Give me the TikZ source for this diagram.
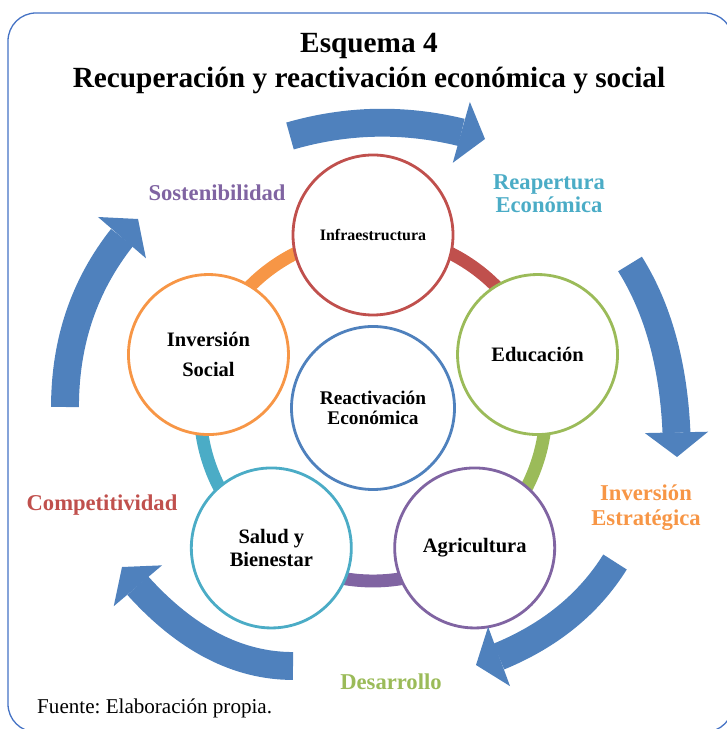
\documentclass[tikz,border=0pt]{standalone}
\usepackage{fontspec}
\setmainfont{Liberation Serif}
\frenchspacing
\usetikzlibrary{arrows.meta,calc,backgrounds,bending}
\definecolor{cred}{HTML}{C0504D}
\definecolor{cgreen}{HTML}{9BBB59}
\definecolor{cpurple}{HTML}{8064A2}
\definecolor{cteal}{HTML}{4BACC6}
\definecolor{corange}{HTML}{F79646}
\definecolor{cblue}{HTML}{4F81BD}
\definecolor{cframe}{HTML}{4472C4}
\tikzset{
  bubble/.style={circle, draw, fill=white, line width=2.4pt, minimum size=4.8cm, inner sep=0pt, align=center, font=\bfseries\fontsize{17.5}{19.6}\selectfont},
  ring/.style={line width=11pt},
  bigarrow/.style={cblue, line width=23.8pt, -{Triangle[length=21pt, width=54pt, line width=0pt, flex]}},
  lbl/.style={inner sep=0pt, align=center, font=\bfseries\fontsize{19.3}{19.6}\selectfont},
  titletext/.style={inner sep=0pt, anchor=base, font=\bfseries\fontsize{25}{30}\selectfont},
}
\begin{document}
\begin{tikzpicture}[x=0.03cm, y=0.03cm]
\useasboundingbox (0,0) rectangle (726,729);
% frame
\draw[cframe, line width=1.1pt, rounded corners=0.84cm] (8,-3) rectangle (733,716);
% title
\node[titletext] (t1) at (369,676.5) {Esquema 4};
\node[titletext] (t2) at (369,641) {Recuperación y reactivación económica y social};
% center of the ring
\coordinate (O) at (373,321);
% circles
\node[bubble, draw=cblue, minimum size=4.89cm, font=\bfseries\fontsize{16.5}{17}\selectfont] (core) at (O) {Reactivación\\Económica};
\node[bubble, draw=cred, font=\bfseries\fontsize{13.6}{16}\selectfont] (infra) at ($(O)+(90:173)$) {Infraestructura};
\node[bubble, draw=cgreen] (edu) at ($(O)+(18:173)$) {Educación};
\node[bubble, draw=cpurple] (agri) at ($(O)+(-54:173)$) {Agricultura};
\node[bubble, draw=cteal, font=\bfseries\fontsize{17.5}{19.6}\selectfont] (salud) at ($(O)+(-126:173)$) {Salud y\\Bienestar};
\node[bubble, draw=corange, font=\bfseries\fontsize{17.5}{25.5}\selectfont] (inv) at ($(O)+(162:173)$) {Inversión\\Social};
% ring segments behind the circles
\begin{scope}[on background layer]
\draw[ring, cred] (infra.center) arc[start angle=90, end angle=18, radius=173];
\draw[ring, cgreen] (edu.center) arc[start angle=18, end angle=-54, radius=173];
\draw[ring, cpurple] (agri.center) arc[start angle=-54, end angle=-126, radius=173];
\draw[ring, cteal] (salud.center) arc[start angle=-126, end angle=-198, radius=173];
\draw[ring, corange] (inv.center) arc[start angle=162, end angle=90, radius=173];
\end{scope}
% big curved arrows
\coordinate (a1) at (290,593); \coordinate (c1) at (387,621); \coordinate (b1) at (485,590);
\coordinate (a2) at (630,465); \coordinate (c2) at (677,390); \coordinate (b2) at (677,272);
\coordinate (a3) at (615,167); \coordinate (c3) at (570,95);  \coordinate (b3) at (476,64);
\coordinate (a4) at (293,63);  \coordinate (c4) at (201,63);  \coordinate (b4) at (122,162);
\coordinate (a5) at (65,322);  \coordinate (c5) at (65,432);  \coordinate (b5) at (138,510);
\foreach \i in {1,...,5}{
  \draw[bigarrow] (a\i) .. controls ($(a\i)!0.6667!(c\i)$) and ($(b\i)!0.6667!(c\i)$) .. (b\i);
}
% outer labels
\node[lbl, text=cpurple] (sost) at (217,536) {Sostenibilidad};
\node[lbl, text=cteal] (reap) at (549,535.5) {Reapertura\\Económica};
\node[lbl, text=corange, font=\bfseries\fontsize{19.3}{21}\selectfont] (estr) at (646,221.5) {Inversión\\Estratégica};
\node[lbl, text=cgreen] (desa) at (391,47) {Desarrollo};
\node[lbl, text=cred] (comp) at (102,224) {Competitividad};
% source
\node[inner sep=0pt, anchor=west, font=\fontsize{18}{20}\selectfont] (src) at (37,21) {Fuente: Elaboración propia.};
\end{tikzpicture}
\end{document}
